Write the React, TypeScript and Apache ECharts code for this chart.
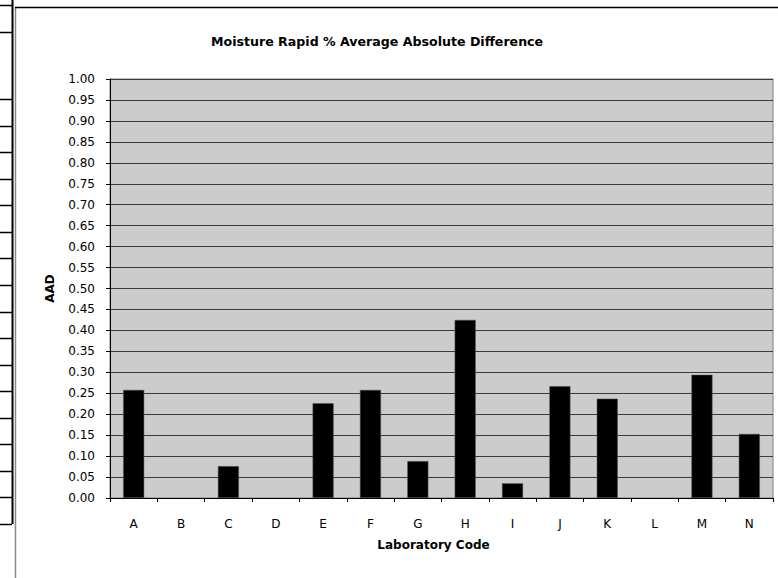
import React, { useEffect, useRef } from "react";
import * as echarts from "echarts";

const categories = ["A", "B", "C", "D", "E", "F", "G", "H", "I", "J", "K", "L", "M", "N"];
const aadValues: (number | null)[] = [0.258, null, 0.076, null, 0.226, 0.258, 0.088, 0.425, 0.035, 0.267, 0.237, null, 0.294, 0.153];
const chartTitle = "Moisture Rapid % Average Absolute Difference";
const xTitle = "Laboratory Code";
const yTitle = "AAD";

const FONT = "'DejaVu Sans', 'Liberation Sans', Arial, sans-serif";

export default function App() {
  const ref = useRef<HTMLDivElement>(null);
  useEffect(() => {
    if (!ref.current) return;
    const chart = echarts.init(ref.current, undefined, { renderer: "svg" });

    // left-side table remnants (decoration)
    const deco: any[] = [];
    deco.push({ type: "line", shape: { x1: 12.5, y1: 0, x2: 12.5, y2: 524 }, style: { stroke: "#000", lineWidth: 2 } });
    const rowYs = [5, 32];
    for (let i = 0; i <= 16; i++) rowYs.push(99 + i * 26.5625);
    rowYs.forEach((y) => {
      deco.push({ type: "line", shape: { x1: 0, y1: Math.round(y) + 0.5, x2: 12, y2: Math.round(y) + 0.5 }, style: { stroke: "#000", lineWidth: 1.5 } });
    });
    deco.push({ type: "line", shape: { x1: 15.5, y1: 7, x2: 15.5, y2: 578 }, style: { stroke: "#888", lineWidth: 1.5 } });
    deco.push({ type: "line", shape: { x1: 15, y1: 7.5, x2: 778, y2: 7.5 }, style: { stroke: "#000", lineWidth: 1.5 } });

    chart.setOption({
      animation: false,
      backgroundColor: "#ffffff",
      title: {
        text: chartTitle,
        left: 206,
        top: 30,
        textStyle: { fontFamily: FONT, fontSize: 12.6, fontWeight: "bold", color: "#000" },
      },
      grid: {
        left: 110,
        top: 79,
        right: 5,
        bottom: 80,
        show: true,
        backgroundColor: "#cccccc",
        borderColor: "#808080",
        borderWidth: 1,
      },
      xAxis: {
        type: "category",
        data: categories,
        boundaryGap: true,
        name: xTitle,
        nameLocation: "middle",
        nameGap: 41,
        nameTextStyle: { fontFamily: FONT, fontSize: 12, fontWeight: "bold", color: "#000", padding: [0, 16, 0, 0] },
        axisLine: { lineStyle: { color: "#000", width: 1 } },
        axisTick: { show: true, interval: 0, length: 4, alignWithLabel: false, lineStyle: { color: "#000" } },
        axisLabel: { interval: 0, margin: 20, fontFamily: FONT, fontSize: 12, color: "#000" },
        splitLine: { show: false },
      },
      yAxis: {
        type: "value",
        min: 0,
        max: 1,
        interval: 0.05,
        name: yTitle,
        nameLocation: "middle",
        nameGap: 54,
        nameRotate: 90,
        nameTextStyle: { fontFamily: FONT, fontSize: 12, fontWeight: "bold", color: "#000" },
        axisLine: { show: true, lineStyle: { color: "#000", width: 1 } },
        axisTick: { show: true, length: 4, lineStyle: { color: "#000" } },
        axisLabel: {
          margin: 15,
          fontFamily: FONT,
          fontSize: 12,
          color: "#000",
          formatter: (v: number) => v.toFixed(2),
        },
        splitLine: { show: true, lineStyle: { color: "#3a3a3a", width: 1 } },
      },
      graphic: deco,
      series: [
        {
          type: "bar",
          data: aadValues,
          barWidth: 21,
          itemStyle: { color: "#000000", borderColor: "#555", borderWidth: 0.5 },
        },
      ],
    });
    return () => chart.dispose();
  }, []);
  return (
    <div
      ref={ref}
      style={{ position: "fixed", left: 0, top: 0, width: 778, height: 578 }}
    />
  );
}
